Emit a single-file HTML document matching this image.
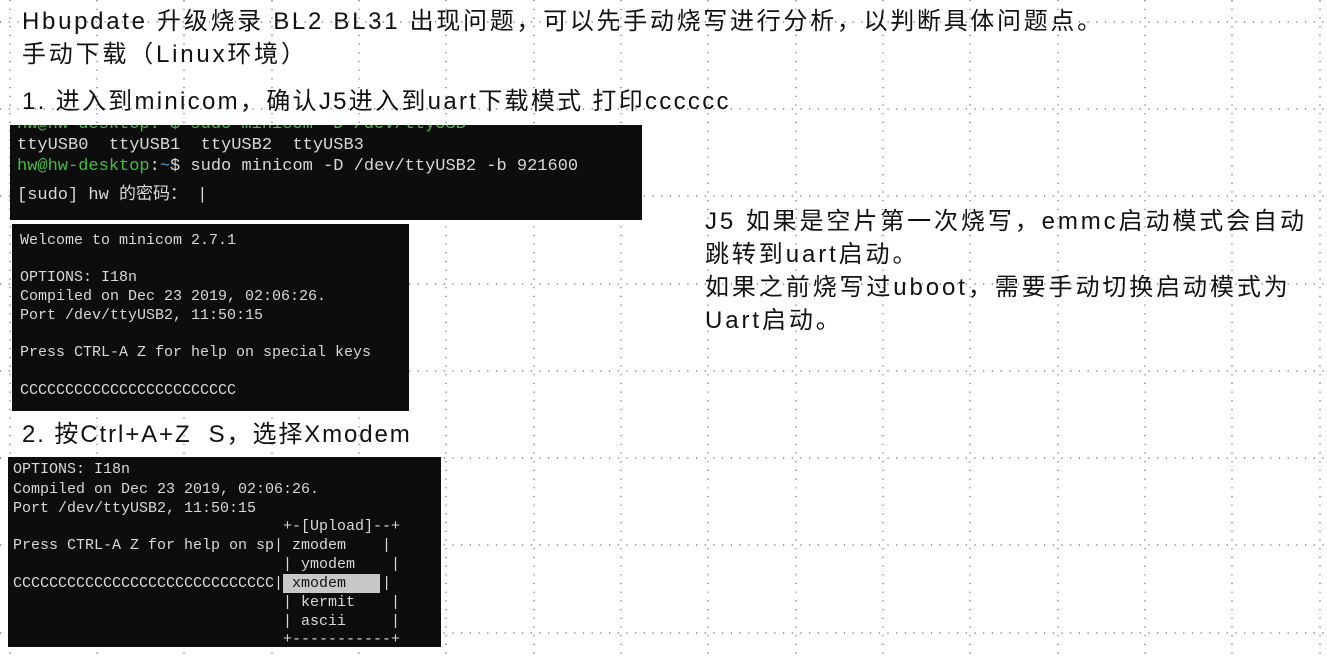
<!DOCTYPE html>
<html><head><meta charset="utf-8"><style>
body{margin:0;width:1327px;height:656px;background:#fff;position:relative;overflow:hidden;font-family:"Liberation Sans","Noto Sans CJK SC",sans-serif;color:#111}
.t{position:absolute;white-space:nowrap;line-height:1;font-size:24px;letter-spacing:2.6px}
.term{position:absolute;background:#0d0d0d;color:#d8d8d8;font-family:"Liberation Mono","Noto Sans CJK SC",monospace;white-space:pre;overflow:hidden}
.term div{position:absolute;left:0}
.g{color:#3fbf3f}.b{color:#4a9fe0}
svg{position:absolute;left:0;top:0}
</style></head><body>
<svg width="1327" height="656">
<g stroke="#000" stroke-width="1.2" stroke-dasharray="1.2 7.5" opacity="0.6">
<line x1="10" y1="0" x2="10" y2="656"/><line x1="97" y1="0" x2="97" y2="656"/><line x1="184" y1="0" x2="184" y2="656"/><line x1="272" y1="0" x2="272" y2="656"/><line x1="359" y1="0" x2="359" y2="656"/><line x1="446" y1="0" x2="446" y2="656"/><line x1="534" y1="0" x2="534" y2="656"/><line x1="621" y1="0" x2="621" y2="656"/><line x1="708" y1="0" x2="708" y2="656"/><line x1="796" y1="0" x2="796" y2="656"/><line x1="883" y1="0" x2="883" y2="656"/><line x1="970" y1="0" x2="970" y2="656"/><line x1="1058" y1="0" x2="1058" y2="656"/><line x1="1145" y1="0" x2="1145" y2="656"/><line x1="1232" y1="0" x2="1232" y2="656"/><line x1="1320" y1="0" x2="1320" y2="656"/>
<line x1="0" y1="22" x2="1327" y2="22"/><line x1="0" y1="109" x2="1327" y2="109"/><line x1="0" y1="196" x2="1327" y2="196"/><line x1="0" y1="284" x2="1327" y2="284"/><line x1="0" y1="371" x2="1327" y2="371"/><line x1="0" y1="458" x2="1327" y2="458"/><line x1="0" y1="545" x2="1327" y2="545"/><line x1="0" y1="633" x2="1327" y2="633"/>
</g>
</svg>
<div class="t" style="left:22px;top:10px;letter-spacing:2.7px">Hbupdate 升级烧录 BL2 BL31 出现问题，可以先手动烧写进行分析，以判断具体问题点。</div>
<div class="t" style="left:22px;top:43px;letter-spacing:2.8px">手动下载（Linux环境）</div>
<div class="t" style="left:22px;top:90px;letter-spacing:2.3px">1. 进入到minicom，确认J5进入到uart下载模式 打印cccccc</div>

<div class="term" style="left:10px;top:125px;width:632px;height:95px;font-size:17px;">
<div class="g" style="left:7px;top:-10px">hw@hw-desktop:~$ sudo minicom -D /dev/ttyUSB</div>
<div style="left:7px;top:11px">ttyUSB0  ttyUSB1  ttyUSB2  ttyUSB3</div>
<div style="left:7px;top:32px"><span class="g">hw@hw-desktop</span>:<span class="b">~</span>$ sudo minicom -D /dev/ttyUSB2 -b 921600</div>
<div style="left:7px;top:54px">[sudo] hw 的密码： |</div>
</div>

<div class="term" style="left:12px;top:224px;width:397px;height:187px;font-size:15px;">
<div style="left:8px;top:8px">Welcome to minicom 2.7.1</div>
<div style="left:8px;top:45px">OPTIONS: I18n</div>
<div style="left:8px;top:64px">Compiled on Dec 23 2019, 02:06:26.</div>
<div style="left:8px;top:83px">Port /dev/ttyUSB2, 11:50:15</div>
<div style="left:8px;top:120px">Press CTRL-A Z for help on special keys</div>
<div style="left:8px;top:158px">CCCCCCCCCCCCCCCCCCCCCCCC</div>
</div>

<div class="t" style="left:22px;top:423px;letter-spacing:1.9px">2. 按Ctrl+A+Z &nbsp;S，选择Xmodem</div>

<div class="term" style="left:8px;top:457px;width:433px;height:190px;font-size:15px;">
<div style="left:5px;top:4px">OPTIONS: I18n</div>
<div style="left:5px;top:24px">Compiled on Dec 23 2019, 02:06:26.</div>
<div style="left:5px;top:43px">Port /dev/ttyUSB2, 11:50:15</div>
<div style="left:5px;top:61px">                              +-[Upload]--+</div>
<div style="left:5px;top:80px">Press CTRL-A Z for help on sp| zmodem    |</div>
<div style="left:5px;top:99px">                              | ymodem    |</div>
<div style="left:275px;top:117px;width:97px;height:19px;background:#c8c8c8"></div>
<div style="left:5px;top:118px">CCCCCCCCCCCCCCCCCCCCCCCCCCCCC| <span style="color:#111">xmodem</span>    |</div>
<div style="left:5px;top:137px">                              | kermit    |</div>
<div style="left:5px;top:156px">                              | ascii     |</div>
<div style="left:5px;top:174px">                              +-----------+</div>
</div>

<div class="t" style="left:705px;top:205px;line-height:33px;letter-spacing:2.9px">J5 如果是空片第一次烧写，emmc启动模式会自动<br>跳转到uart启动。<br>如果之前烧写过uboot，需要手动切换启动模式为<br>Uart启动。</div>
</body></html>
